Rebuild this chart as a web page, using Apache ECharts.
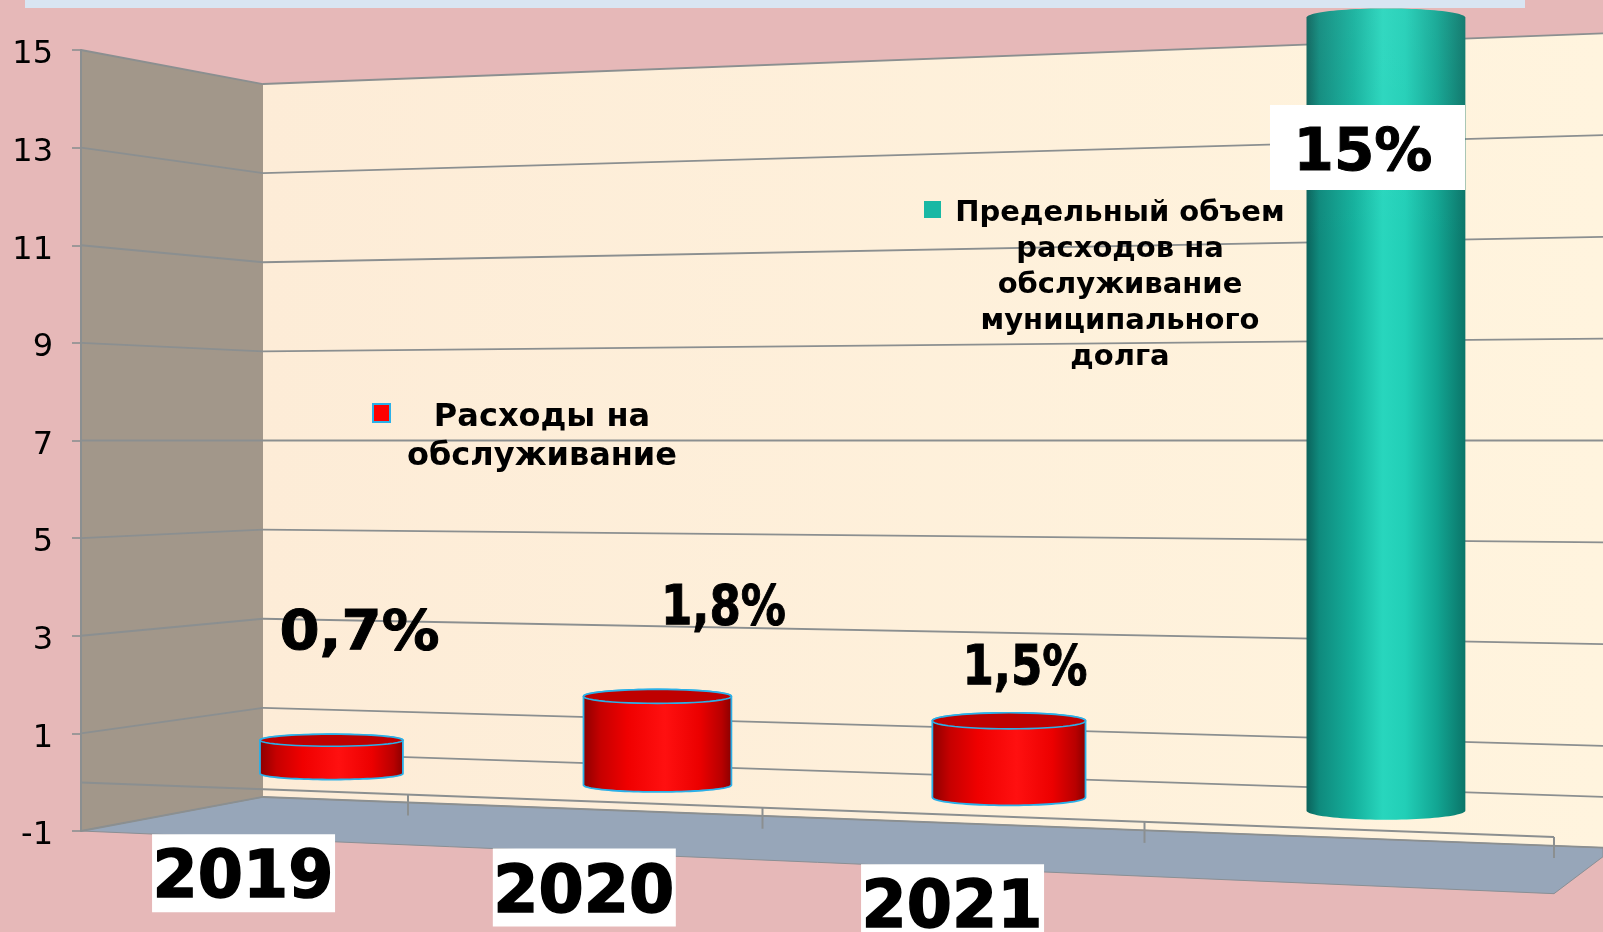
<!DOCTYPE html>
<html><head><meta charset="utf-8">
<style>html,body{margin:0;padding:0;background:#e6b8b8}#c{width:1603px;height:932px}</style>
<script src="https://cdn.jsdelivr.net/npm/echarts@6/dist/echarts.min.js"></script>
</head><body><div id="c"></div>
<script>
// ---------- data ----------
const categories = ['2019', '2020', '2021', ''];
const expenses = [0.7, 1.8, 1.5, null];
const limit = [null, null, null, 15];
const yTicks = [-1, 1, 3, 5, 7, 9, 11, 13, 15];
const expensesLegend = ['Расходы на', 'обслуживание'];
const limitLegend = ['Предельный объем', 'расходов на', 'обслуживание', 'муниципального', 'долга'];
const expensesName = expensesLegend.join(' ');
const limitName = limitLegend.join(' ');

// ---------- layout ----------
const GL = 81, GT = 50, GH = 781, GW = 1473, BACK_X = 263, RIGHT_X = 1603;
const FONT = '"DejaVu Sans"';
const FRONT_K = 1.118, BAR_K = 1.06;
const LINE = '#8b8f90';
const MID = GT + GH / 2;
// perspective helpers: everything below starts from the axis pixel values
const s = x => (44.56 + (x - 263) * 0.00473) / (GH / 16);
const proj = (x, gy, k) => MID + (gy - MID) * s(x) * k;
const tOf = (px) => (px - GL) / (GW / 4);
const floorX = t => GL + 313.25 * t + 13.75 * t * t;
const barX = t => 178 + 300.5 * t + 12.75 * t * t;
const gy = (api, v) => api.coord([0, v])[1];

function seg(a, b, w, c) {
  return { type: 'line', shape: { x1: a[0], y1: a[1], x2: b[0], y2: b[1] }, style: { stroke: c || LINE, lineWidth: w || 1.8 } };
}
// back/side walls + floor
function renderScene(p, api) {
  const top = gy(api, 15), bot = gy(api, -1);
  const children = [];
  const backPts = [[BACK_X, proj(BACK_X, top, 1)], [RIGHT_X, proj(RIGHT_X, top, 1)], [RIGHT_X, proj(RIGHT_X, bot, 1)], [BACK_X, proj(BACK_X, bot, 1)]];
  children.push({ type: 'polygon', shape: { points: backPts }, style: { fill: { type: 'linear', x: 0, y: 0, x2: 1, y2: 0, colorStops: [{ offset: 0, color: '#fdecd7' }, { offset: 1, color: '#fff4de' }] } } });
  children.push({ type: 'polygon', shape: { points: [[GL, top], [BACK_X, proj(BACK_X, top, 1)], [BACK_X, proj(BACK_X, bot, 1)], [GL, bot]] }, style: { fill: '#a2978a' } });
  const fr = floorX(4);
  children.push({
    type: 'polygon', shape: { points: [[GL, bot], [BACK_X, proj(BACK_X, bot, 1)], [RIGHT_X, proj(RIGHT_X, bot, 1)], [RIGHT_X, proj(RIGHT_X, bot, 1) + 9], [fr, proj(fr, bot, FRONT_K)]] },
    style: { fill: '#97a6b9', stroke: '#8a8f94', lineWidth: 1 }
  });
  return { type: 'group', children };
}
// grid lines: left wall then back wall
function renderGrid(p, api) {
  const v = api.value(0);
  const y = api.coord([0, v])[1];
  const back = [BACK_X, proj(BACK_X, y, 1)];
  const right = [RIGHT_X, proj(RIGHT_X, y, 1)];
  const children = [];
  if (v !== 0) children.push(seg([GL, y], back));
  children.push(seg(back, right));
  return { type: 'group', children };
}
// floor axis with ticks
function renderFloorAxis(p, api) {
  const zero = gy(api, 0);
  const children = [];
  const a = floorX(0), b = floorX(4);
  children.push(seg([a, proj(a, zero, FRONT_K)], [b, proj(b, zero, FRONT_K)]));
  for (let t = 0; t <= 4; t++) {
    const x = floorX(t), y = proj(x, zero, FRONT_K);
    children.push(seg([x, y], [x, y + 21], 2));
  }
  return { type: 'group', children };
}
function renderCatLabel(p, api) {
  const t = tOf(api.coord([api.value(0), 0])[0]);
  const name = categories[p.dataIndex];
  if (!name) return null;
  const x = floorX(t) + 2, y = proj(x, gy(api, -1), FRONT_K) + 35;
  return {
    type: 'group', children: [
      { type: 'rect', shape: { x: x - 91, y: y - 39, width: 183, height: 78 }, style: { fill: '#fff' } },
      { type: 'text', x, y: y + 7, style: { text: name, fontFamily: FONT, fontWeight: 'bold', fontSize: 65, fill: '#000', stroke: '#000', lineWidth: 1.5, align: 'center', verticalAlign: 'middle' } }
    ]
  };
}
function ellipsePts(cx, cy, rx, ry, from, to) {
  const pts = [];
  for (let i = 0; i <= 48; i++) {
    const a = from + (to - from) * i / 48;
    pts.push([cx + rx * Math.cos(a), cy + ry * Math.sin(a)]);
  }
  return pts;
}
const redStops = [[0, '#8a0000'], [0.12, '#c60000'], [0.3, '#f00000'], [0.55, '#ff1010'], [0.78, '#ec0000'], [0.93, '#b80000'], [1, '#860000']];
const tealStops = [[0, '#0b625b'], [0.08, '#0f8a7d'], [0.3, '#15b19d'], [0.48, '#28d6bd'], [0.62, '#22cfb7'], [0.82, '#12a693'], [1, '#0b7569']];
const grad = st => ({ type: 'linear', x: 0, y: 0, x2: 1, y2: 0, colorStops: st.map(o => ({ offset: o[0], color: o[1] })) });
const labelDx = [28, 66, 16, -23];
const labelY = [634, 610, 670, 155];
const labelScale = [1.03, 0.82, 0.82, 1];
const labelSize = [56, 55, 55, 58];
function barRenderer(stops, outline, lid, values) {
  return function (p, api) {
    const v = values[p.dataIndex];
    if (v == null) return null;
    const c = api.coord([p.dataIndex, v]);
    const x = barX(tOf(c[0]));
    const sc = s(x) * GH / 16;
    const w = 3.185 * sc / 2;
    const ry = 6 + (x - 331) * 0.003;
    const yTop = proj(x, c[1], BAR_K), yBot = proj(x, gy(api, 0), BAR_K);
    const body = [...ellipsePts(x, yTop, w, ry, Math.PI, 2 * Math.PI), ...ellipsePts(x, yBot, w, ry, 0, Math.PI)];
    const children = [{ type: 'polygon', shape: { points: body }, style: { fill: grad(stops), stroke: outline || null, lineWidth: 1.8 } }];
    if (lid) children.push({ type: 'polygon', shape: { points: ellipsePts(x, yTop, w, ry, 0, 2 * Math.PI) }, style: { fill: lid, stroke: outline, lineWidth: 1.6 } });
    else children.push({ type: 'polygon', shape: { points: body }, style: { fill: { type: 'linear', x: 0, y: 0, x2: 0, y2: 0.3, colorStops: [{ offset: 0, color: 'rgba(255,255,255,0.05)' }, { offset: 1, color: 'rgba(255,255,255,0)' }] } } });
    const txt = String(v).replace('.', ',') + '%';
    const i = p.dataIndex, lx = x + labelDx[i], ly = labelY[i];
    if (!lid) children.push({ type: 'rect', shape: { x: 1270, y: 105, width: 195, height: 85 }, style: { fill: '#fff' } });
    children.push({
      type: 'text', x: lx, y: ly, scaleX: labelScale[i], style: { text: txt, fontFamily: FONT, fontWeight: 'bold', fontSize: labelSize[i], fill: '#000', stroke: '#000', lineWidth: 1, align: 'center', verticalAlign: 'middle' }
    });
    return { type: 'group', children };
  };
}
function legendText(lines, cx, y0, lh, size) {
  return lines.map((t, i) => ({
    type: 'text', x: cx, y: y0 + i * lh, z: 50,
    style: { text: t, fontFamily: FONT, fontWeight: 'bold', fontSize: size, fill: '#000', align: 'center', verticalAlign: 'middle' }
  }));
}
const chart = echarts.init(document.getElementById('c'), null, { renderer: 'canvas' });
chart.setOption({
  animation: false,
  backgroundColor: '#e6b8b8',
  grid: { left: GL, top: GT, width: GW, height: GH },
  xAxis: { type: 'category', data: categories, show: false },
  yAxis: {
    type: 'value', min: -1, max: 15, z: 6,
    axisLine: { show: true, lineStyle: { color: LINE, width: 2 } },
    axisTick: { show: true, length: 9, customValues: yTicks, lineStyle: { color: LINE, width: 1.6 } },
    axisLabel: {
      customValues: yTicks, margin: 28, formatter: '{a|{value}}',
      rich: { a: { fontFamily: FONT, fontSize: 32, color: '#000', padding: [10, 0, 0, 0] } }
    },
    splitLine: { show: false }
  },
  series: [
    { type: 'custom', name: 'scene', silent: true, clip: false, z: 1, data: [[0]], encode: { y: 0 }, renderItem: renderScene },
    { type: 'custom', name: 'grid', silent: true, clip: false, z: 2, data: [...yTicks, 0].map(v => [v]), encode: { y: 0 }, renderItem: renderGrid },
    { type: 'custom', name: 'floor', silent: true, clip: false, z: 3, data: [[0]], encode: { y: 0 }, renderItem: renderFloorAxis },
    { type: 'custom', name: limitName, silent: true, clip: false, z: 4, data: limit.map((v, i) => [i, v]), encode: { x: 0, y: 1 }, renderItem: barRenderer(tealStops, null, null, limit) },
    { type: 'custom', name: expensesName, silent: true, clip: false, z: 4, data: expenses.map((v, i) => [i, v]), encode: { x: 0, y: 1 }, renderItem: barRenderer(redStops, '#2bb0e8', '#bf0000', expenses) },
    { type: 'custom', name: 'labels', silent: true, clip: false, z: 5, data: categories.map((c, i) => [i]), encode: { x: 0 }, renderItem: renderCatLabel }
  ],
  graphic: [
    { type: 'rect', z: 60, shape: { x: 25, y: 0, width: 1500, height: 8 }, style: { fill: '#d9e5f2' } },
    { type: 'rect', z: 50, shape: { x: 924, y: 201, width: 17, height: 17 }, style: { fill: '#19b8a4' } },
    { type: 'rect', z: 50, shape: { x: 373, y: 404, width: 17, height: 18 }, style: { fill: '#ff0000', stroke: '#2bb0e8', lineWidth: 2 } },
    ...legendText(limitLegend, 1120, 213, 36, 29),
    ...legendText(expensesLegend, 542, 418, 39, 32)
  ]
});
</script></body></html>
